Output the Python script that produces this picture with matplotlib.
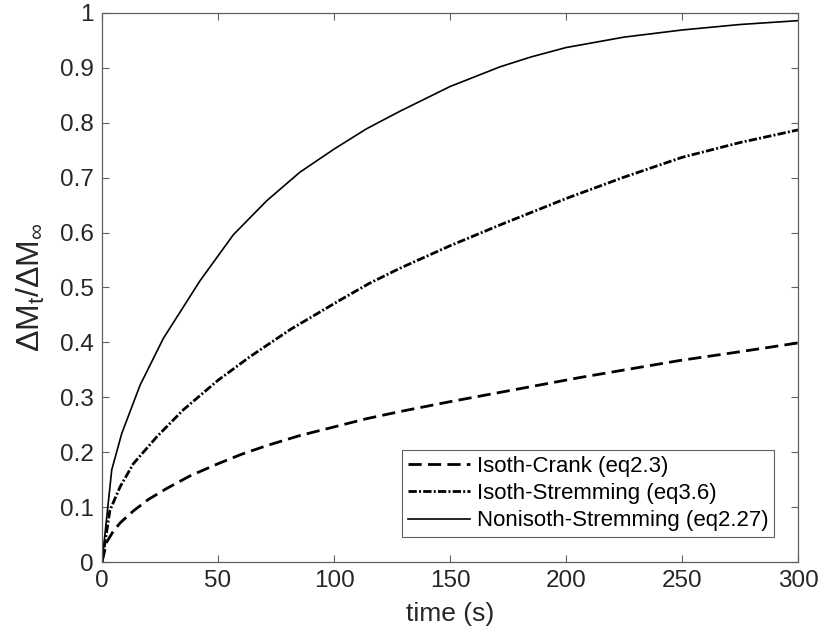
import numpy as np
import matplotlib
matplotlib.use("Agg")
import matplotlib.pyplot as plt
from matplotlib.ticker import FormatStrFormatter

plt.rcParams['font.family'] = ['Liberation Sans', 'DejaVu Sans']
plt.rcParams['mathtext.fontset'] = 'custom'
plt.rcParams['mathtext.rm'] = 'Liberation Sans'
plt.rcParams['mathtext.it'] = 'Liberation Sans:italic'
plt.rcParams['lines.scale_dashes'] = False

# uptake curves, time in s
t_crank = [0, 2, 5, 8, 13.5, 20, 27.9, 38, 50, 60, 71, 85, 100, 114, 128.4, 150, 171.6, 206, 249, 275, 300]
m_crank = [0, 0.036, 0.057, 0.072, 0.093, 0.114, 0.134, 0.157, 0.179, 0.196, 0.212, 0.230, 0.246, 0.261,
           0.274, 0.292, 0.309, 0.336, 0.367, 0.383, 0.399]

t_strem = [0, 3.4, 7.8, 13.5, 23.6, 35, 50, 63.8, 81, 102.6, 115, 128.4, 150, 171.6, 200, 225, 250, 275, 300]
m_strem = [0, 0.094, 0.137, 0.179, 0.228, 0.277, 0.331, 0.374, 0.423, 0.477, 0.507, 0.535, 0.576, 0.614,
           0.662, 0.701, 0.737, 0.764, 0.787]

t_noniso = [0, 4.2, 8.5, 16.4, 26.4, 42.2, 56.6, 71, 85.3, 100, 114, 128.4, 150, 171.6, 185, 200, 225, 250, 275, 300]
m_noniso = [0, 0.168, 0.234, 0.322, 0.407, 0.512, 0.596, 0.658, 0.710, 0.752, 0.789, 0.821, 0.866, 0.902,
            0.920, 0.937, 0.956, 0.969, 0.979, 0.986]

labels = ['Isoth-Crank (eq2.3)', 'Isoth-Stremming (eq3.6)', 'Nonisoth-Stremming (eq2.27)']

fig = plt.figure(figsize=(8.2, 6.39), dpi=100)
ax = fig.add_axes([0.1244, 0.1205, 0.8488, 0.8592])

ax.plot(t_crank, m_crank, color='black', lw=2.0, dashes=(9.5, 4.5), label=labels[0])
ax.plot(t_strem, m_strem, color='black', lw=2.0, dashes=(6, 1.6, 1.4, 1.6), label=labels[1])
ax.plot(t_noniso, m_noniso, color='black', lw=1.2, label=labels[2])

ax.set_xlim(0, 300)
ax.set_ylim(0, 1)
ax.set_xticks(np.arange(0, 301, 50))
ax.set_yticks(np.arange(0, 1.01, 0.1))
ax.yaxis.set_major_formatter(FormatStrFormatter('%g'))

axcol = '#606060'
for s in ax.spines.values():
    s.set_color(axcol)
    s.set_linewidth(0.9)
ax.tick_params(direction='in', top=True, right=True, length=5, width=0.8,
               color=axcol, labelsize=17.5, labelcolor='#262626', pad=6)

ax.set_xlabel('time (s)', fontsize=19, color='#262626', labelpad=7)
ax.set_ylabel(r'$\mathrm{\Delta M_t/\Delta M_\infty}$', fontsize=23, color='#262626', labelpad=9)

leg = ax.legend(loc='lower right', bbox_to_anchor=(0.9655, 0.0455), fontsize=16,
                frameon=True, fancybox=False, framealpha=1, edgecolor=axcol,
                handlelength=2.8, handletextpad=0.3, labelspacing=0.28,
                borderpad=0.25, borderaxespad=0)
leg.get_frame().set_linewidth(0.8)
for txt in leg.get_texts():
    txt.set_color('black')

fig.savefig('out.png', dpi=100)
